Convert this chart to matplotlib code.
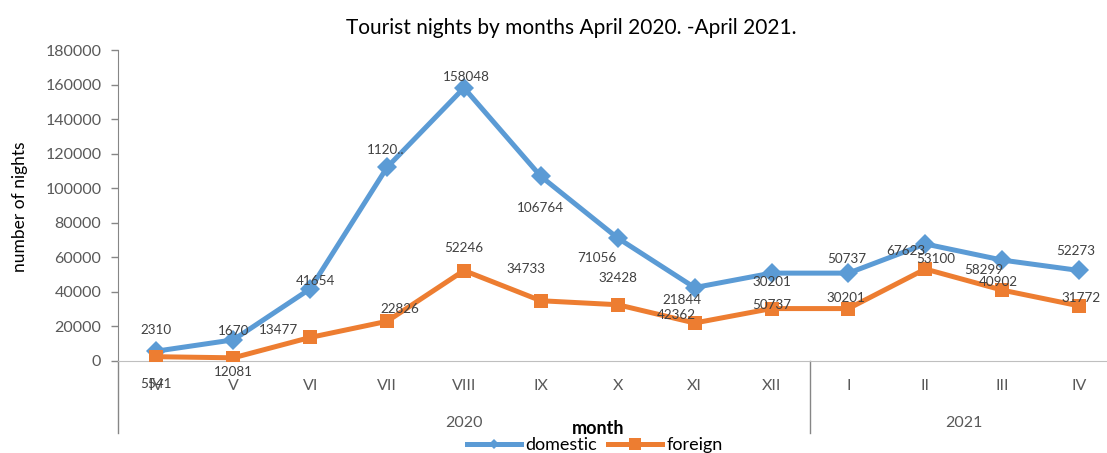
import matplotlib.pyplot as plt
from matplotlib.lines import Line2D
from matplotlib import transforms

plt.rcParams['font.family'] = ['Lato', 'DejaVu Sans']

# data
months = ['IV', 'V', 'VI', 'VII', 'VIII', 'IX', 'X', 'XI', 'XII', 'I', 'II', 'III', 'IV']
years = ['2020', '2021']
year_spans = [(0, 8), (9, 12)]
domestic = [5541, 12081, 41654, 112035, 158048, 106764, 71056, 42362, 50737, 50737, 67623, 58299, 52273]
foreign = [2310, 1670, 13477, 22826, 52246, 34733, 32428, 21844, 30201, 30201, 53100, 40902, 31772]
domestic_labels = [str(v) for v in domestic]
domestic_labels[3] = '1120..'   # truncated in the original
foreign_labels = [str(v) for v in foreign]

# label offsets in pixels (as placed in the original)
dom_off = [(0, -33), (0, -32), (5, 8), (-1, 17), (2, 11), (0, -32), (-21, -20), (-18, -27),
           (0, -32), (-2, 14), (-19, -7), (-18, -10), (-3, 19)]
for_off = [(0, 27), (0, 27), (-32, 7), (13, 12), (0, 23), (-15, 32), (0, 27), (-13, 23),
           (0, 27), (-2, 11), (10, 10), (-4, 8), (2, 8)]

BLUE = '#5B9BD5'
ORANGE = '#ED7D31'
GRID = '#868686'
TXT = '#595959'

W, H = 1107, 453
fig = plt.figure(figsize=(W / 100, H / 100), dpi=100)
ax = fig.add_axes([118 / W, (H - 360.7) / H, (1117.5 - 118) / W, 310.7 / H])

x = list(range(len(months)))
ax.plot(x, domestic, color=BLUE, lw=3.6, marker='D', ms=10, mec=BLUE, mew=0, zorder=3)
ax.plot(x, foreign, color=ORANGE, lw=3.6, marker='s', ms=10.5, mec=ORANGE, mew=0, zorder=3)

for i in x:
    ax.annotate(domestic_labels[i], (i, domestic[i]), xytext=dom_off[i], textcoords='offset pixels',
                ha='center', va='center', fontsize=9.7, color='#404040', zorder=4)
    ax.annotate(foreign_labels[i], (i, foreign[i]), xytext=for_off[i], textcoords='offset pixels',
                ha='center', va='center', fontsize=9.7, color='#404040', zorder=4)

ax.set_xlim(-0.5, len(months) - 0.5)
ax.set_ylim(0, 180000)
ax.set_yticks(range(0, 180001, 20000))
ax.set_xticks(x)
ax.set_xticklabels(months)
ax.tick_params(axis='x', length=0, pad=13, labelsize=11.5, labelcolor=TXT)
ax.tick_params(axis='y', length=5, width=1, color=GRID, pad=7, labelsize=11.5, labelcolor=TXT)

for s in ['top', 'right']:
    ax.spines[s].set_visible(False)
ax.spines['left'].set_color(GRID)
ax.spines['bottom'].set_color('#BFBFBF')

# group separators and year labels below the month row
trans = transforms.blended_transform_factory(ax.transData, ax.transAxes)
low = -(433 - 360.7) / 310.7
for xs in [-0.5, 8.5]:
    ax.plot([xs, xs], [0, low], color=GRID, lw=1, transform=trans, clip_on=False)
for yr, (a, b) in zip(years, year_spans):
    ax.text((a + b) / 2, -(422.7 - 360.7) / 310.7, yr, transform=trans, ha='center', va='center',
            fontsize=11.5, color=TXT)

ax.set_ylabel('number of nights', fontsize=12.5, color='black')
ax.yaxis.set_label_coords(-(118 - 20) / (1117.5 - 118), (360.7 - 207) / 310.7)
ax.yaxis.label.set_va('center')

fig.text(598 / W, 1 - 429 / H, 'month', ha='center', va='center', fontsize=13, fontweight='bold')
fig.text(571 / W, 1 - 28 / H, 'Tourist nights by months April 2020. -April 2021.',
         ha='center', va='center', fontsize=15, color='black')

handles = [Line2D([], [], color=BLUE, lw=3.6, marker='D', ms=5, mew=0),
           Line2D([], [], color=ORANGE, lw=3.6, marker='s', ms=9, mew=0)]
fig.legend(handles, ['domestic', 'foreign'], loc='center', bbox_to_anchor=(595 / W, 1 - 445 / H),
           ncol=2, frameon=False, fontsize=13, handlelength=3.0, handletextpad=0.25,
           columnspacing=0.6, borderpad=0)

fig.savefig('out.png', dpi=100)
